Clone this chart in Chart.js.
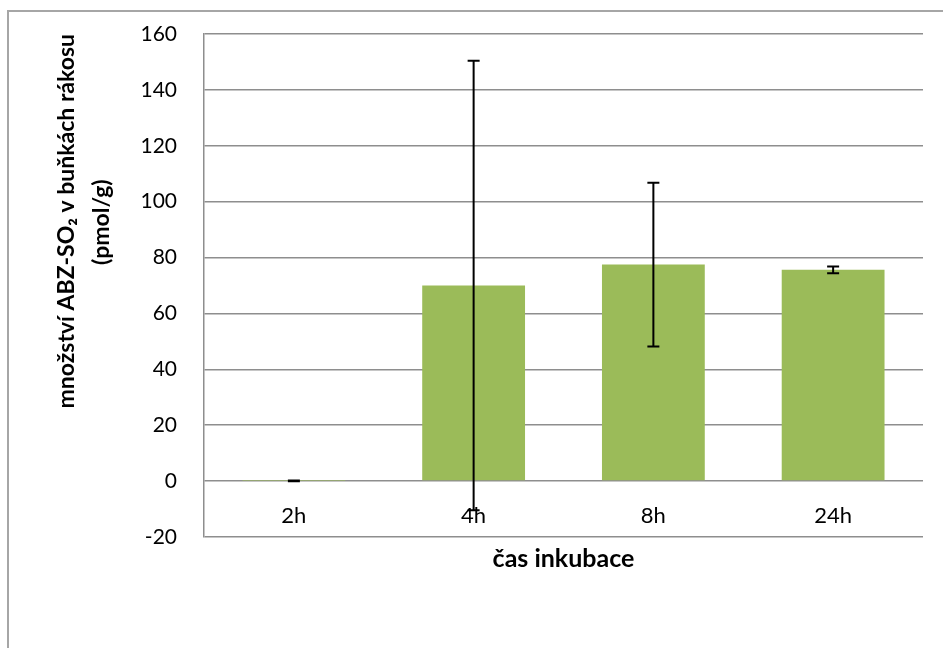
<!DOCTYPE html>
<html>
<head>
<meta charset="utf-8">
<script src="https://cdn.jsdelivr.net/npm/chart.js@4.4.1/dist/chart.umd.min.js"></script>
<style>
  body { margin: 0; background: #fff; overflow: hidden; }
  #frame { position: absolute; left: 7px; top: 10px; width: 1000px; height: 700px;
           border-left: 2px solid #a6a6a6; border-top: 2px solid #a6a6a6; }
  #ShowChart { position: absolute; left: 0; top: 0; }
</style>
</head>
<body>
<div id="frame"></div>
<canvas id="ShowChart" width="943" height="648"></canvas>
<script>
var Labels = ["2h", "4h", "8h", "24h"]
var Values = [0.1, 70, 77.5, 75.6]
var Errors = [0.15, 80.4, 29.3, 1.2]
var Y_Min = -20, Y_Max = 160, Y_Step = 20
var Y_Title = ["množství ABZ-SO₂ v buňkách rákosu", "(pmol/g)"]
var X_Title = "čas inkubace"

var Font = "Lato"
var TitleFont = {family: Font, size: 23, weight: "bold", lineHeight: "35px"}

// second title line is padded with trailing spaces so it sits centred on the first
function Pad_Title(lines){
  var c = document.createElement("canvas").getContext("2d")
  c.font = "bold 23px " + Font
  var w1 = c.measureText(lines[0]).width
  var w2 = c.measureText(lines[1]).width
  var sp = c.measureText(" ").width
  return [lines[0], lines[1] + " ".repeat(Math.round((w1 - w2) / 2 / sp))]
}

var Error_Bars = {
  id: "errorBars",
  afterDatasetsDraw(chart){
    var ctx = chart.ctx, y = chart.scales.y
    var meta = chart.getDatasetMeta(0)
    ctx.save()
    ctx.strokeStyle = "#000"
    ctx.lineWidth = 2
    for (var i = 0; i < meta.data.length; i++){
      var x = meta.data[i].x
      var top = y.getPixelForValue(Values[i] + Errors[i])
      var bot = y.getPixelForValue(Values[i] - Errors[i])
      ctx.beginPath()
      ctx.moveTo(x, top); ctx.lineTo(x, bot)
      ctx.moveTo(x - 6, top); ctx.lineTo(x + 6, top)
      ctx.moveTo(x - 6, bot); ctx.lineTo(x + 6, bot)
      ctx.stroke()
    }
    ctx.restore()
  }
}

var ctx = document.getElementById("ShowChart").getContext("2d")
var ChartObject = new Chart(ctx, {
  type: "bar",
  data: {
    labels: Labels,
    datasets: [{
      label: "ABZ-SO2",
      data: Values,
      backgroundColor: "#9BBB59",
      borderWidth: 0,
      categoryPercentage: 1,
      barPercentage: 0.572
    }]
  },
  options: {
    responsive: false,
    animation: false,
    layout: { padding: { left: 0, top: 34, right: 20, bottom: 111 } },
    plugins: { legend: { display: false }, tooltip: { enabled: false } },
    scales: {
      x: {
        position: { y: 0 },
        grid: { display: false, drawTicks: false },
        border: { display: false },
        ticks: { color: "#000", font: { family: Font, size: 22 }, padding: 22 },
        title: { display: true, text: X_Title, color: "#000",
                 font: { family: Font, size: 25, weight: "bold" }, padding: { top: -8, bottom: 0 } }
      },
      y: {
        min: Y_Min,
        max: Y_Max,
        afterFit: function(scale){ scale.width = 204 },
        // invisible tick marks hold the gap between labels and axis
        grid: { color: "#8e8e8e", lineWidth: 1.5, tickLength: 27, tickColor: "rgba(0,0,0,0)" },
        border: { color: "#8e8e8e", width: 1.5 },
        ticks: { stepSize: Y_Step, color: "#000", font: { family: Font, size: 21 }, padding: 0 },
        title: { display: true, text: Pad_Title(Y_Title), align: "end", color: "#000",
                 font: TitleFont, padding: { top: 49, bottom: 0 } }
      }
    }
  },
  plugins: [Error_Bars]
})
</script>
</body>
</html>
